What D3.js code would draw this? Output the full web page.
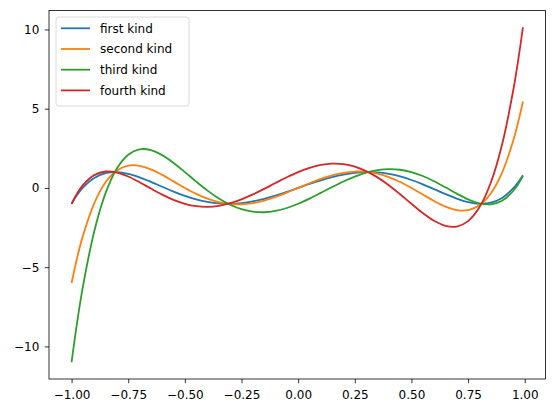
<!DOCTYPE html>
<html>
<head>
<meta charset="utf-8">
<script src="https://cdn.jsdelivr.net/npm/d3@7"></script>
<style>
  body { margin: 0; background: #fff; overflow: hidden; }
  svg { display: block; }
  svg text { font-family: "DejaVu Sans", sans-serif; }
  .tick text { font-size: 12px; fill: #000; }
  .tick line { stroke: #000; stroke-width: 0.8; }
  .line-path { fill: none; stroke-width: 1.8; }
</style>
</head>
<body>
<svg id="chart" width="555" height="413"></svg>
<script>
// sample points (x positions)
const xs = [-1, -0.975, -0.95, -0.9, -0.85, -0.8, -0.75, -0.7, -0.65, -0.6, -0.55, -0.5,
  -0.45, -0.4, -0.35, -0.3, -0.25, -0.2, -0.15, -0.1, -0.05, 0, 0.05, 0.1, 0.15, 0.2,
  0.25, 0.3, 0.35, 0.4, 0.45, 0.5, 0.55, 0.6, 0.65, 0.7, 0.75, 0.8, 0.85, 0.9, 0.95,
  0.975, 0.992]

const firstKind = [-1, -0.435, 0.017, 0.632, 0.933, 0.997, 0.891, 0.671, 0.386, 0.076, -0.228, -0.5,
  -0.723, -0.884, -0.977, -0.999, -0.953, -0.845, -0.684, -0.480, -0.248, 0, 0.248, 0.480, 0.684, 0.845,
  0.953, 0.999, 0.977, 0.884, 0.723, 0.5, 0.228, -0.076, -0.386, -0.671, -0.891, -0.997, -0.933, -0.632, -0.017,
  0.435, 0.806]

const secondKind = [-6, -4.386, -3.025, -0.968, 0.353, 1.098, 1.406, 1.398, 1.175, 0.824, 0.413, 0,
  -0.374, -0.680, -0.896, -1.014, -1.031, -0.954, -0.794, -0.568, -0.296, 0, 0.296, 0.568, 0.794, 0.954,
  1.031, 1.014, 0.896, 0.680, 0.374, 0, -0.413, -0.824, -1.175, -1.398, -1.406, -1.098, -0.353, 0.968, 3.025,
  4.386, 5.454]

const thirdKind = [-11, -8.437, -6.227, -2.745, -0.329, 1.225, 2.094, 2.436, 2.389, 2.070, 1.579, 1,
  0.399, -0.169, -0.666, -1.063, -1.344, -1.500, -1.533, -1.450, -1.266, -1, -0.674, -0.313, 0.056, 0.409,
  0.719, 0.964, 1.126, 1.190, 1.148, 1, 0.752, 0.423, 0.039, -0.359, -0.719, -0.972, -1.036, -0.810, -0.177,
  0.334, 0.769]

const fourthKind = [-1, -0.334, 0.177, 0.810, 1.036, 0.972, 0.719, 0.359, -0.039, -0.423, -0.752, -1,
  -1.148, -1.190, -1.126, -0.964, -0.719, -0.409, -0.056, 0.313, 0.674, 1, 1.266, 1.450, 1.533, 1.500,
  1.344, 1.063, 0.666, 0.169, -0.399, -1, -1.579, -2.070, -2.389, -2.436, -2.094, -1.225, 0.329, 2.745, 6.227,
  8.437, 10.140]

const seriesNames = ['first kind', 'second kind', 'third kind', 'fourth kind']
const seriesColors = ['#1f77b4', '#ff7f0e', '#2ca02c', '#d62728']
const xTicks = [-1, -0.75, -0.5, -0.25, 0, 0.25, 0.5, 0.75, 1]
const yTicks = [-10, -5, 0, 5, 10]

const svg = d3.select('#chart')
const width = +svg.attr('width')
const height = +svg.attr('height')
const margin = { top: 10.5, right: 9.5, bottom: 34, left: 49 }
const innerWidth = width - margin.left - margin.right
const innerHeight = height - margin.top - margin.bottom

const series = [firstKind, secondKind, thirdKind, fourthKind].map((vals, i) => ({
  name: seriesNames[i],
  color: seriesColors[i],
  points: xs.map((x, j) => ({ x, y: vals[j] })),
}))

// matplotlib style 5% margins around the data
const pad = (ext) => {
  const r = ext[1] - ext[0]
  return [ext[0] - 0.05 * r, ext[1] + 0.05 * r]
}
const allY = [].concat(firstKind, secondKind, thirdKind, fourthKind)

const xScale = d3.scaleLinear().
  domain(pad(d3.extent(xs))).
  range([0, innerWidth])

const yScale = d3.scaleLinear().
  domain(pad(d3.extent(allY))).
  range([innerHeight, 0])

const g = svg.append('g').
  attr('transform', `translate(${margin.left}, ${margin.top})`)

const xAxis = d3.axisBottom(xScale).
  tickValues(xTicks).
  tickFormat(d3.format('.2f')).
  tickSize(4.2).
  tickPadding(7.5)

const yAxis = d3.axisLeft(yScale).
  tickValues(yTicks).
  tickFormat(d3.format('d')).
  tickSize(4.2).
  tickPadding(5.5)

const xAxisG = g.append('g').
  attr('transform', `translate(0, ${innerHeight})`).
  call(xAxis)
xAxisG.selectAll('.domain').remove()

const yAxisG = g.append('g').call(yAxis)
yAxisG.selectAll('.domain').remove()

const lineGenerator = d3.line().
  x(d => xScale(d.x)).
  y(d => yScale(d.y)).
  curve(d3.curveCatmullRom)

g.append('clipPath').attr('id', 'clip').
  append('rect').attr('width', innerWidth).attr('height', innerHeight)

g.append('g').attr('clip-path', 'url(#clip)').
  selectAll('.line-path').
  data(series).
  enter().
  append('path').
  attr('class', 'line-path').
  attr('d', d => lineGenerator(d.points)).
  attr('stroke', d => d.color)

// axes frame
g.append('rect').
  attr('width', innerWidth).
  attr('height', innerHeight).
  attr('fill', 'none').
  attr('stroke', '#000').
  attr('stroke-width', 0.8)

// legend
const legend = g.append('g').attr('transform', 'translate(7, 6.5)')
legend.append('rect').
  attr('width', 133).
  attr('height', 89).
  attr('rx', 3).
  attr('fill', '#fff').
  attr('fill-opacity', 0.8).
  attr('stroke', '#d0d0d0').
  attr('stroke-width', 0.8)

const entries = legend.selectAll('.entry').
  data(series).
  enter().
  append('g').
  attr('class', 'entry').
  attr('transform', (d, i) => `translate(0, ${11.3 + i * 20.7})`)

entries.append('line').
  attr('x1', 5).
  attr('x2', 34).
  attr('stroke', d => d.color).
  attr('stroke-width', 1.8)

entries.append('text').
  attr('x', 44).
  attr('dy', '0.35em').
  style('font-size', '12px').
  text(d => d.name)
</script>
</body>
</html>
